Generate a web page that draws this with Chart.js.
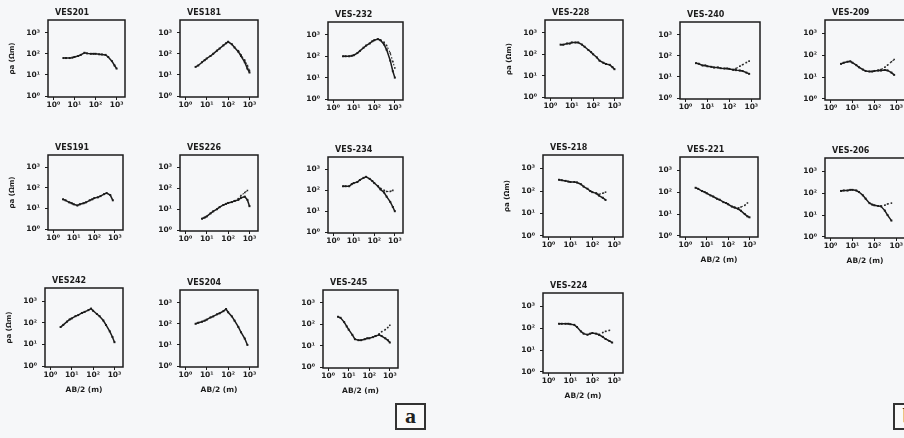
<!DOCTYPE html>
<html>
<head>
<meta charset="utf-8">
<script src="https://cdn.jsdelivr.net/npm/chart.js@4.4.1/dist/chart.umd.min.js"></script>
<style>
  body { margin: 0; background: #f6f7f9; }
  #page { position: relative; width: 904px; height: 438px; overflow: hidden; background: #f6f7f9; }
  #page canvas { position: absolute; }
  .tag { position: absolute; width: 27px; height: 23px; border: 2px solid #333; background: #fafafa;
         font: bold 22px "Liberation Serif", "DejaVu Serif", serif; color: #222; text-align: center; line-height: 21px; }
</style>
</head>
<body>
<div id="page">
  <div class="tag" style="left:395px;top:403px;">a</div>
  <div class="tag" style="left:893px;top:403px;">b</div>
</div>
<script>
// AB/2 spacing (m), shared by every sounding
const abHalf = [3, 4, 6, 8, 10, 15, 20, 30, 40, 60, 80, 100, 150, 200, 300, 400, 600, 800, 1000];
const tickValues = [1, 10, 100, 1000];
const tickLabels = ['10⁰', '10¹', '10²', '10³'];

const names = ['VES201', 'VES181', 'VES-232', 'VES191', 'VES226', 'VES-234', 'VES242', 'VES204', 'VES-245',
               'VES-228', 'VES-240', 'VES-209', 'VES-218', 'VES-221', 'VES-206', 'VES-224'];

// apparent resistivity (ohm m), field curve and fitted tail
const rho1 = [63, 63, 63, 66, 71, 79, 89, 112, 105, 100, 100, 100, 95, 93, 89, 71, 45, 28, 20];
const fit1 = [null, null, null, null, null, null, null, null, null, null, null, null, null, null, null, null, null, null, null];
const rho2 = [24, 28, 40, 50, 60, 79, 100, 141, 178, 251, 316, 372, 282, 200, 126, 79, 40, 20, 13];
const fit2 = [null, null, null, null, null, null, null, null, null, null, null, null, null, null, 141, 89, 50, 28, 16];
const rho3 = [100, 100, 100, 105, 112, 141, 178, 251, 316, 398, 501, 562, 631, 562, 355, 200, 63, 20, 10];
const fit3 = [null, null, null, null, null, null, null, null, null, null, null, null, null, 562, 447, 316, 141, 56, 28];
const rho4 = [28, 25, 20, 18, 16, 14, 16, 18, 20, 25, 28, 32, 35, 40, 50, 56, 45, 25, null];
const fit4 = [null, null, null, null, null, null, null, null, null, null, null, null, null, null, null, null, null, null, null];
const rho5 = [null, null, 3.5, 4.0, 4.5, 6.3, 7.9, 10, 12.6, 16, 18, 20, 22, 25, 28, 35, 40, 28, 14];
const fit5 = [null, null, null, null, null, null, null, null, null, null, null, null, null, 25, 32, 45, 63, 79, null];
const rho6 = [158, 158, 158, 200, 224, 251, 316, 398, 447, 355, 282, 224, 158, 112, 79, 50, 28, 16, 10];
const fit6 = [null, null, null, null, null, null, null, null, null, null, null, null, 158, 126, 100, 89, 89, 100, null];
const rho7 = [63, 79, 112, 141, 158, 200, 224, 282, 316, 380, 447, 355, 251, 200, 126, 79, 40, 22, 12.6];
const fit7 = [null, null, null, null, null, null, null, null, null, null, null, null, null, null, null, null, null, null, null];
const rho8 = [100, 112, 126, 141, 158, 200, 224, 282, 316, 398, 501, 355, 224, 141, 71, 40, 20, 10, null];
const fit8 = [null, null, null, null, null, null, null, null, null, null, null, null, null, null, null, null, null, null, null];
const rho9 = [224, 200, 126, 79, 56, 32, 20, 18, 18, 20, 22, 22, 25, 28, 32, 28, 22, 18, 14];
const fit9 = [null, null, null, null, null, null, null, null, null, null, null, null, null, 28, 35, 45, 56, 71, 89];
const rho10 = [282, 282, 316, 316, 355, 355, 355, 282, 224, 158, 126, 100, 71, 50, 40, 35, 32, 25, 20];
const fit10 = [null, null, null, null, null, null, null, null, null, null, null, null, null, null, null, null, null, null, null];
const rho11 = [45, 42, 35, 35, 32, 30, 28, 28, 26, 25, 25, 24, 22, 21, 20, 19, 16, 14, null];
const fit11 = [null, null, null, null, null, null, null, null, null, null, null, null, 22, 25, 32, 38, 48, 56, null];
const rho12 = [40, 45, 50, 52, 45, 35, 28, 22, 19, 18, 18, 19, 20, 20, 21, 20, 16, 12.6, null];
const fit12 = [null, null, null, null, null, null, null, null, null, null, null, null, 20, 22, 28, 35, 50, 63, null];
const rho13 = [316, 302, 282, 263, 251, 251, 240, 200, 158, 126, 100, 89, 79, 63, 50, 40, null, null, null];
const fit13 = [null, null, null, null, null, null, null, null, null, null, null, null, 79, 71, 79, 89, null, null, null];
const rho14 = [158, 141, 112, 100, 89, 71, 63, 50, 45, 35, 32, 28, 22, 20, 17, 14, 10, 7.9, 7.1];
const fit14 = [null, null, null, null, null, null, null, null, null, null, null, null, null, 20, 19, 21, 25, 32, null];
const rho15 = [126, 132, 132, 141, 141, 132, 112, 79, 56, 35, 30, 28, 26, 25, 16, 10, 5.6, null, null];
const fit15 = [null, null, null, null, null, null, null, null, null, null, null, null, null, 25, 28, 32, 35, null, null];
const rho16 = [158, 158, 158, 158, 151, 141, 112, 71, 56, 50, 56, 60, 56, 50, 40, 32, 26, 22, null];
const fit16 = [null, null, null, null, null, null, null, null, null, null, null, null, null, 50, 63, 71, 79, null, null];

const observed = [rho1, rho2, rho3, rho4, rho5, rho6, rho7, rho8, rho9, rho10, rho11, rho12, rho13, rho14, rho15, rho16];
const fitted = [fit1, fit2, fit3, fit4, fit5, fit6, fit7, fit8, fit9, fit10, fit11, fit12, fit13, fit14, fit15, fit16];

// plot-area boxes on the page [left, top, right, bottom]
const boxes = [
  [48, 20, 125, 97], [180, 20, 258, 97], [328, 22, 403, 100],
  [48, 155, 123, 230], [180, 155, 258, 231], [328, 157, 403, 233],
  [45, 288, 123, 367], [180, 290, 258, 367], [323, 290, 398, 368],
  [545, 20, 623, 98], [680, 22, 760, 99], [825, 20, 905, 100],
  [543, 155, 623, 237], [680, 157, 758, 237], [825, 158, 905, 238],
  [543, 293, 623, 373]
];
const withXTitle = [6, 7, 8, 13, 14, 15];
const withYTitle = [0, 3, 6, 9, 12];

const ink = '#1c1c1c';
const tickFont = { family: 'DejaVu Sans', size: 7.5, weight: 'bold' };

// box round the plot area and the sounding name above it
const frame = {
  id: 'frame',
  afterDraw(chart, args, opts) {
    const a = chart.chartArea, c = chart.ctx;
    c.save();
    c.strokeStyle = ink;
    c.lineWidth = 1.5;
    c.strokeRect(a.left, a.top, a.right - a.left, a.bottom - a.top);
    c.fillStyle = ink;
    c.font = 'bold 8px "DejaVu Sans"';
    c.textBaseline = 'bottom';
    c.fillText(opts.text, a.left + 7, a.top - 3);
    c.restore();
  }
};

const page = document.getElementById('page');
boxes.forEach((b, i) => {
  const xh = withXTitle.includes(i) ? 28 : 13;
  const cv = document.createElement('canvas');
  const w = 40 + (b[2] - b[0]) + 6;
  const h = 14 + (b[3] - b[1]) + xh;
  cv.width = w; cv.height = h;
  cv.style.left = (b[0] - 40) + 'px';
  cv.style.top = (b[1] - 14) + 'px';
  page.appendChild(cv);

  new Chart(cv, {
    type: 'line',
    data: {
      labels: abHalf,
      datasets: [{
        data: observed[i].map((v, k) => ({ x: abHalf[k], y: v })),
        borderColor: ink, backgroundColor: ink,
        borderWidth: 1.5, pointStyle: 'rect', pointRadius: 1.4, pointBorderWidth: 0
      }, {
        data: fitted[i].map((v, k) => ({ x: abHalf[k], y: v })),
        borderColor: '#2a2a2a', backgroundColor: '#2a2a2a',
        borderWidth: 1.1, borderDash: [1.5, 2], pointStyle: 'rect', pointRadius: 1.1, pointBorderWidth: 0
      }]
    },
    options: {
      responsive: false, animation: false, devicePixelRatio: 1,
      layout: { padding: { left: 0, right: 6, top: 14, bottom: 0 } },
      plugins: {
        legend: { display: false },
        tooltip: { enabled: false },
        title: { display: false },
        frame: { text: names[i] }
      },
      scales: {
        x: {
          type: 'logarithmic', min: 0.56, max: 2500,
          afterBuildTicks: s => { s.ticks = tickValues.map(v => ({ value: v })); },
          afterFit: s => { s.height = xh; },
          ticks: { color: ink, font: tickFont, padding: 1, maxRotation: 0, autoSkip: false,
                   callback: v => tickLabels[tickValues.indexOf(v)] ?? '' },
          grid: { drawOnChartArea: false, tickLength: 3, color: ink },
          border: { display: false },
          title: { display: withXTitle.includes(i), text: 'AB/2 (m)', color: ink,
                   font: { family: 'DejaVu Sans', size: 7.5, weight: 'bold' }, padding: { top: 1, bottom: 0 } }
        },
        y: {
          type: 'logarithmic', min: 0.9, max: 4000,
          afterBuildTicks: s => { s.ticks = tickValues.map(v => ({ value: v })); },
          afterFit: s => { s.width = 40; },
          ticks: { color: ink, font: tickFont, padding: 5, autoSkip: false,
                   callback: v => tickLabels[tickValues.indexOf(v)] ?? '' },
          grid: { drawOnChartArea: false, tickLength: 3, color: ink },
          border: { display: false },
          title: { display: withYTitle.includes(i), text: 'ρa (Ωm)', color: ink,
                   font: { family: 'DejaVu Sans', size: 7, weight: 'bold' }, padding: 0 }
        }
      }
    },
    plugins: [frame]
  });
});
</script>
</body>
</html>
